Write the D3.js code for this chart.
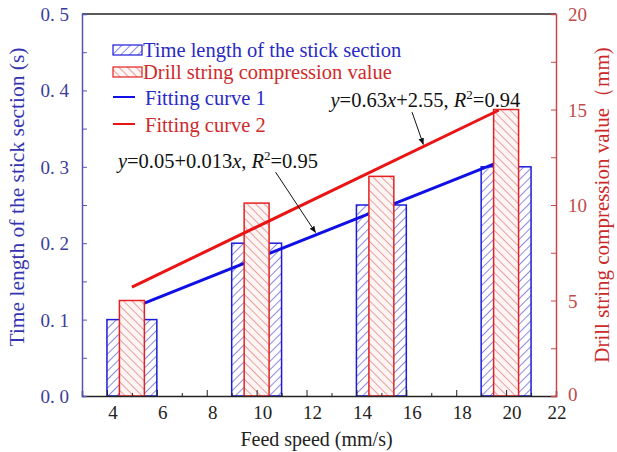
<!DOCTYPE html>
<html>
<head>
<meta charset="utf-8">
<script src="https://cdn.jsdelivr.net/npm/d3@7"></script>
<style>
  body { margin: 0; background: #fff; }
  text { font-family: "Liberation Serif", "Times New Roman", serif; }
</style>
</head>
<body>
<svg id="chart" width="617" height="452"></svg>
<script>
// data
var feedSpeed = [5, 10, 15, 20];
var stickTime = [0.1, 0.2, 0.25, 0.3];
var compression = [5, 10.1, 11.5, 15];
var xTicks = [4, 6, 8, 10, 12, 14, 16, 18, 20, 22];
var leftTicks = [0, 0.1, 0.2, 0.3, 0.4, 0.5];
var rightTicks = [0, 5, 10, 15, 20];
var fit1 = [5, 19.5];   // y = 0.05 + 0.013x
var fit2 = [5, 19.7];   // y = 0.63x + 2.55
var legendLabels = ["Time length of the stick section", "Drill string compression value", "Fitting curve 1", "Fitting curve 2"];

var margin = {top: 14, right: 61, bottom: 56, left: 82},
    width = 617 - margin.left - margin.right,
    height = 452 - margin.top - margin.bottom;

var blue = "#1c1cd8", red = "#e62020";

var svg = d3.select("#chart");

var defs = svg.append("defs");
var p1 = defs.append("pattern").attr("id", "hatchBlue")
    .attr("patternUnits", "userSpaceOnUse").attr("width", 6).attr("height", 6)
    .attr("patternTransform", "rotate(45)");
p1.append("rect").attr("width", 6).attr("height", 6).attr("fill", "#fff");
p1.append("line").attr("x1", 0).attr("y1", 0).attr("x2", 0).attr("y2", 6)
    .attr("stroke", "#3a3ad0").attr("stroke-width", 1.2);
var p2 = defs.append("pattern").attr("id", "hatchRed")
    .attr("patternUnits", "userSpaceOnUse").attr("width", 6).attr("height", 6)
    .attr("patternTransform", "rotate(-45)");
p2.append("rect").attr("width", 6).attr("height", 6).attr("fill", "#fdf4f4");
p2.append("line").attr("x1", 0).attr("y1", 0).attr("x2", 0).attr("y2", 6)
    .attr("stroke", "#d86868").attr("stroke-width", 1.2);
defs.append("marker").attr("id", "arrow")
    .attr("viewBox", "0 0 10 10").attr("refX", 9).attr("refY", 5)
    .attr("markerWidth", 7).attr("markerHeight", 7).attr("orient", "auto")
    .append("path").attr("d", "M0,1 L10,5 L0,9 z").attr("fill", "#111");

var g = svg.append("g").attr("transform", "translate(" + margin.left + "," + margin.top + ")");

var x = d3.scaleLinear().domain([3, 22]).range([0, width]);
var yL = d3.scaleLinear().domain([0, 0.5]).range([height, 0]);
var yR = d3.scaleLinear().domain([0, 20]).range([height, 0]);

// blue bars (2 units wide)
g.selectAll(".barB")
    .data(feedSpeed)
    .enter().append("rect")
    .attr("x", function (d) { return x(d - 1); })
    .attr("y", function (d, i) { return yL(stickTime[i]); })
    .attr("width", x(2) - x(0))
    .attr("height", function (d, i) { return height - yL(stickTime[i]); })
    .attr("fill", "url(#hatchBlue)")
    .attr("stroke", blue).attr("stroke-width", 1.5);

// fitting curve 1
g.append("line")
    .attr("x1", x(fit1[0])).attr("y1", yL(0.05 + 0.013 * fit1[0]))
    .attr("x2", x(fit1[1])).attr("y2", yL(0.05 + 0.013 * fit1[1]))
    .attr("stroke", "#1010e6").attr("stroke-width", 3);

// red bars (1 unit wide)
g.selectAll(".barR")
    .data(feedSpeed)
    .enter().append("rect")
    .attr("x", function (d) { return x(d - 0.5); })
    .attr("y", function (d, i) { return yR(compression[i]); })
    .attr("width", x(1) - x(0))
    .attr("height", function (d, i) { return height - yR(compression[i]); })
    .attr("fill", "url(#hatchRed)")
    .attr("stroke", red).attr("stroke-width", 1.5);

// fitting curve 2
g.append("line")
    .attr("x1", x(fit2[0])).attr("y1", yR(0.63 * fit2[0] + 2.55))
    .attr("x2", x(fit2[1])).attr("y2", yR(0.63 * fit2[1] + 2.55))
    .attr("stroke", "#ea1414").attr("stroke-width", 3);

// frame
g.append("line").attr("x1", 0).attr("x2", width).attr("y1", 0).attr("y2", 0)
    .attr("stroke", "#222").attr("stroke-width", 1.5);

// bottom axis
var xAxis = g.append("g").attr("transform", "translate(0," + height + ")")
    .call(d3.axisBottom(x).tickValues(d3.range(4, 22, 1)).tickSize(-5).tickFormat(""));
xAxis.selectAll(".tick line").attr("stroke", "#222")
    .attr("y2", function (d) { return d % 2 === 0 ? -6 : -3; });
xAxis.select(".domain").attr("stroke", "#222").attr("stroke-width", 1.5);
g.selectAll(".xlab").data(xTicks).enter().append("text")
    .attr("x", function (d) { return x(d) + (d === 22 ? 1 : 6); })
    .attr("y", height + 23)
    .attr("text-anchor", "middle")
    .style("font-size", "19px").attr("fill", "#222")
    .text(function (d) { return d; });

// left axis
var yAxisL = g.append("g")
    .call(d3.axisLeft(yL).tickValues(d3.range(0, 0.501, 0.05)).tickSize(-5).tickFormat(""));
yAxisL.selectAll(".tick line").attr("stroke", "#5555b8");
yAxisL.select(".domain").attr("stroke", "#5555b8").attr("stroke-width", 1.5);
g.selectAll(".ylab").data(leftTicks).enter().append("text")
    .attr("x", -13).attr("y", function (d) { return yL(d) + 7; })
    .attr("text-anchor", "end")
    .style("font-size", "19px").attr("fill", "#3c3c9c")
    .text(function (d) { return d.toFixed(1).replace(".", ". "); });

// right axis
var yAxisR = g.append("g").attr("transform", "translate(" + width + ",0)")
    .call(d3.axisRight(yR).tickValues(d3.range(0, 20.1, 2.5)).tickSize(-5).tickFormat(""));
yAxisR.selectAll(".tick line").attr("stroke", "#c84848");
yAxisR.select(".domain").attr("stroke", "#c84848").attr("stroke-width", 1.5);
g.selectAll(".rlab").data(rightTicks).enter().append("text")
    .attr("x", width + 12).attr("y", function (d) { return yR(d) + (d === 0 ? 5 : 7); })
    .attr("text-anchor", "start")
    .style("font-size", "19px").attr("fill", "#c24a4a")
    .text(function (d) { return d; });

// axis titles
svg.append("text")
    .attr("transform", "translate(24,197) rotate(-90)")
    .attr("text-anchor", "middle").style("font-size", "21.5px").attr("fill", "#3434b0")
    .text("Time length of the stick section (s)");
svg.append("text")
    .attr("transform", "translate(609,205) rotate(-90)")
    .attr("text-anchor", "middle").style("font-size", "21px").attr("fill", "#cc2a2a")
    .text("Drill string compression value\uFF08mm)");
svg.append("text")
    .attr("x", margin.left + x(12.4)).attr("y", 446)
    .attr("text-anchor", "middle").style("font-size", "20px").attr("fill", "#222")
    .text("Feed speed (mm/s)");

// annotations with arrows
var notes = [
    {tx: 4.44, ty: 0.307, scale: yL, main: "=0.05+0.013", r: "=0.95", ax1: 10.76, ay1: 0.293, ax2: 12.36, ay2: 0.214},
    {tx: 12.96, ty: 15.5, scale: yR, main: "=0.63", tail: "+2.55", r: "=0.94", ax1: 16.23, ay1: 14.86, ax2: 16.68, ay2: 13.18}
];
notes.forEach(function (n) {
    var t = g.append("text").attr("x", x(n.tx)).attr("y", n.scale(n.ty) + 7)
        .style("font-size", "20.5px").attr("fill", "#111");
    t.append("tspan").style("font-style", "italic").text("y");
    t.append("tspan").text(n.main);
    t.append("tspan").style("font-style", "italic").text("x");
    if (n.tail) t.append("tspan").text(n.tail);
    t.append("tspan").text(", ");
    t.append("tspan").style("font-style", "italic").text("R");
    t.append("tspan").attr("dy", -8).style("font-size", "13px").text("2");
    t.append("tspan").attr("dy", 8).text(n.r);
    g.append("line")
        .attr("x1", x(n.ax1)).attr("y1", n.scale(n.ay1))
        .attr("x2", x(n.ax2)).attr("y2", n.scale(n.ay2))
        .attr("stroke", "#111").attr("stroke-width", 1)
        .attr("marker-end", "url(#arrow)");
});

// legend
var legend = svg.append("g").attr("transform", "translate(113,45)");
var rowY = [0, 22, 52, 79];
var legendColors = ["#2a2ac4", "#d02a2a", "#2a2ac4", "#d02a2a"];
legend.selectAll("rect")
    .data(["url(#hatchBlue)", "url(#hatchRed)"])
    .enter().append("rect")
    .attr("x", 0).attr("y", function (d, i) { return rowY[i]; })
    .attr("width", 29).attr("height", 10)
    .attr("fill", function (d) { return d; })
    .attr("stroke", function (d, i) { return i === 0 ? blue : red; })
    .attr("stroke-width", 1.2);
legend.selectAll("line")
    .data(["#1010e6", "#ea1414"])
    .enter().append("line")
    .attr("x1", 0).attr("x2", 22)
    .attr("y1", function (d, i) { return rowY[i + 2]; })
    .attr("y2", function (d, i) { return rowY[i + 2]; })
    .attr("stroke", function (d) { return d; }).attr("stroke-width", 2);
legend.selectAll("text")
    .data(legendLabels)
    .enter().append("text")
    .attr("x", function (d, i) { return i < 2 ? 30 : 32; })
    .attr("y", function (d, i) { return rowY[i] + (i < 2 ? 5 : 1); })
    .attr("dy", ".35em")
    .style("font-size", "20.5px")
    .attr("fill", function (d, i) { return legendColors[i]; })
    .text(function (d) { return d; });
</script>
</body>
</html>
